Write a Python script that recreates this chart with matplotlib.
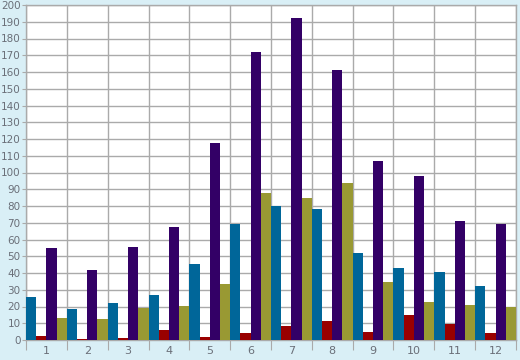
import matplotlib
matplotlib.use("Agg")
import matplotlib.pyplot as plt
import numpy as np

months = ["1", "2", "3", "4", "5", "6", "7", "8", "9", "10", "11", "12"]
blue = [25.7, 18.5, 22.1, 26.9, 45.4, 69.3, 80, 78.2, 51.9, 43, 40.6, 32.2]
red = [2.4, 0.7, 1.2, 6.0, 1.8, 4.2, 8.4, 11.4, 4.8, 14.9, 9.6, 4.2]
purple = [54.9, 41.8, 55.5, 67.5, 117.6, 171.9, 192.2, 161.2, 106.9, 97.9, 71, 69.3]
olive = [13.1, 12.5, 19.1, 20.3, 33.4, 87.8, 84.8, 93.7, 34.6, 22.7, 20.9, 19.7]

series = [blue, red, purple, olive]
colors = ["#006699", "#990000", "#330066", "#999933"]

fig = plt.figure(figsize=(5.2, 3.6), dpi=100, facecolor="#d9eff6")
ax = fig.add_axes([26 / 520, 20 / 360, 490 / 520, 335 / 360])
ax.set_facecolor("white")

x = np.arange(len(months))
w = 0.25
for k, (vals, c) in enumerate(zip(series, colors)):
    ax.bar(x + k * w, vals, width=w, align="edge", color=c, zorder=3, linewidth=0)

ax.set_xlim(0, len(months))
ax.set_ylim(0, 200)
ax.set_yticks(np.arange(0, 201, 10))
ax.set_xticks(np.arange(0, len(months) + 1))
ax.set_xticklabels([])
ax.set_xticks(x + 0.5, minor=True)
ax.set_xticklabels(months, minor=True)

grid_c = "#aaaaaa"
ax.grid(True, which="major", color=grid_c, linewidth=1, zorder=0)
for s in ax.spines.values():
    s.set_color(grid_c)
    s.set_linewidth(1)

ax.tick_params(axis="y", which="major", length=3, color=grid_c, labelsize=7.5,
               labelcolor="#6a6f78", pad=1)
ax.tick_params(axis="x", which="major", length=7, color=grid_c)
ax.tick_params(axis="x", which="minor", length=0, labelsize=8,
               labelcolor="#6a6f78", pad=4)

fig.savefig("out.png", dpi=100, facecolor=fig.get_facecolor())
